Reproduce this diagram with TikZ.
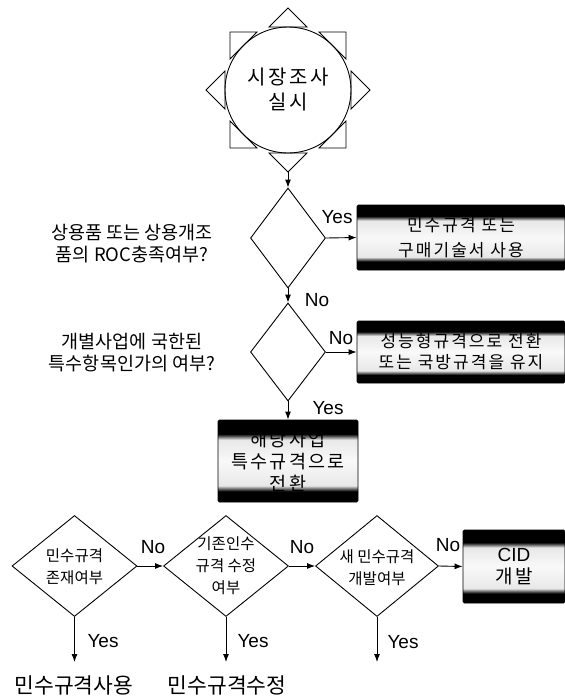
\documentclass[tikz,border=0pt]{standalone}
\usepackage{fontspec}
\setmainfont{Liberation Sans}
\newfontfamily\kr{Noto Sans CJK KR}
\newfontfamily\krsp[LetterSpace=12]{Noto Sans CJK KR}
\usetikzlibrary{shapes.geometric,arrows.meta}
\pgfdeclareverticalshading{band}{100bp}{color(0bp)=(black); color(25bp)=(black); color(31.5bp)=(black); color(35bp)=(gray!18); color(50bp)=(gray!5); color(63bp)=(gray!18); color(66.5bp)=(black); color(75bp)=(black); color(100bp)=(black)}
\begin{document}
\begin{tikzpicture}[x=1pt,y=-1pt,line width=0.9pt,
  arr/.style={-{Latex[length=8pt,width=6pt]}},
  dia/.style={diamond,draw,inner sep=0},
  bbox/.style={draw,rounded corners=1.5pt,shade,shading=band,inner sep=0,align=center},
  qtext/.style={font=\kr\fontsize{18.5}{22}\selectfont,align=center},
  dtext/.style={font=\kr\fontsize{15.5}{22}\selectfont,align=center},
  lbl/.style={font=\fontsize{19}{19}\selectfont,inner sep=0},
  endlbl/.style={font=\kr\fontsize{21.5}{21.5}\selectfont,inner sep=0}]
\useasboundingbox (0,0) rectangle (565,697);

% start circle with triangles
\node[circle,draw,minimum size=126pt,inner sep=0,align=center,
      font=\krsp\fontsize{20}{25}\selectfont] (c) at (288,90) {시장조사\\실시};
\foreach \a in {0,45,...,315}{
  \begin{scope}[shift={(288,90)},rotate=\a]
    \draw (82,0) -- (63,19) -- (63,-19) -- cycle;
  \end{scope}}
\coordinate (tb) at (288,172);

% decision 1
\node[dia,minimum width=75pt,minimum height=100pt] (d1) at (288,238) {};
\node[qtext] (q1) at (132,244) {상용품 또는 상용개조\\품의 ROC충족여부?};
\node[bbox,minimum width=208pt,minimum height=65pt,font=\krsp\fontsize{17}{25}\selectfont] (b1) at (461,237.5) {민수규격 또는\\구매기술서 사용};
\draw[arr] (tb) -- (d1.north);
\draw[arr] (d1.east) -- (b1.west);
\node[lbl] (y1) at (337,217) {Yes};

% decision 2
\node[dia,minimum width=75pt,minimum height=98pt] (d2) at (288,352) {};
\node[qtext] (q2) at (132,353) {개별사업에 국한된\\특수항목인가의 여부?};
\node[bbox,minimum width=208pt,minimum height=62pt,font=\krsp\fontsize{17}{21}\selectfont] (b2) at (461,352) {성능형규격으로 전환\\또는 국방규격을 유지};
\draw[arr] (d1.south) -- (d2.north);
\node[lbl] (n1) at (317,300) {No};
\draw[arr] (d2.east) -- (b2.west);
\node[lbl] (n2) at (341,338) {No};

% box 3
\node[bbox,minimum width=140pt,minimum height=82pt,font=\krsp\fontsize{18.5}{22}\selectfont] (b3) at (288,461) {해당사업\\특수규격으로\\전환};
\draw[arr] (d2.south) -- (b3.north);
\node[lbl] (y2) at (328,408) {Yes};

% bottom row
\node[dia,minimum width=125pt,minimum height=101pt] (d3) at (74.5,566) {};
\node[dtext] (t3) at (74.5,567) {민수규격\\존재여부};
\node[dia,minimum width=125pt,minimum height=101pt] (d4) at (226,566) {};
\node[dtext] (t4) at (226,566) {기존인수\\규격 수정\\여부};
\node[dia,minimum width=123pt,minimum height=101pt] (d5) at (377,566) {};
\node[dtext] (t5) at (377,568) {새 민수규격\\개발여부};
\node[bbox,minimum width=102pt,minimum height=73pt,font=\fontsize{19}{22}\selectfont] (b4) at (514,566.5) {CID\\{\krsp 개발}};

\draw[arr] (d3.east) -- (d4.west);
\node[lbl] (n3) at (153,547) {No};
\draw[arr] (d4.east) -- (d5.west);
\node[lbl] (n4) at (302,547) {No};
\draw[arr] (d5.east) -- (b4.west);
\node[lbl] (n5) at (448,545) {No};

\coordinate (e3) at (74.5,662);
\coordinate (e4) at (226,662);
\coordinate (e5) at (377,662);
\draw[arr] (d3.south) -- (e3);
\draw[arr] (d4.south) -- (e4);
\draw[arr] (d5.south) -- (e5);
\node[lbl] (y3) at (103,641) {Yes};
\node[lbl] (y4) at (253,641) {Yes};
\node[lbl] (y5) at (403,642) {Yes};
\node[endlbl] (r3) at (74,685) {민수규격사용};
\node[endlbl] (r4) at (227,685) {민수규격수정};
\end{tikzpicture}
\end{document}
